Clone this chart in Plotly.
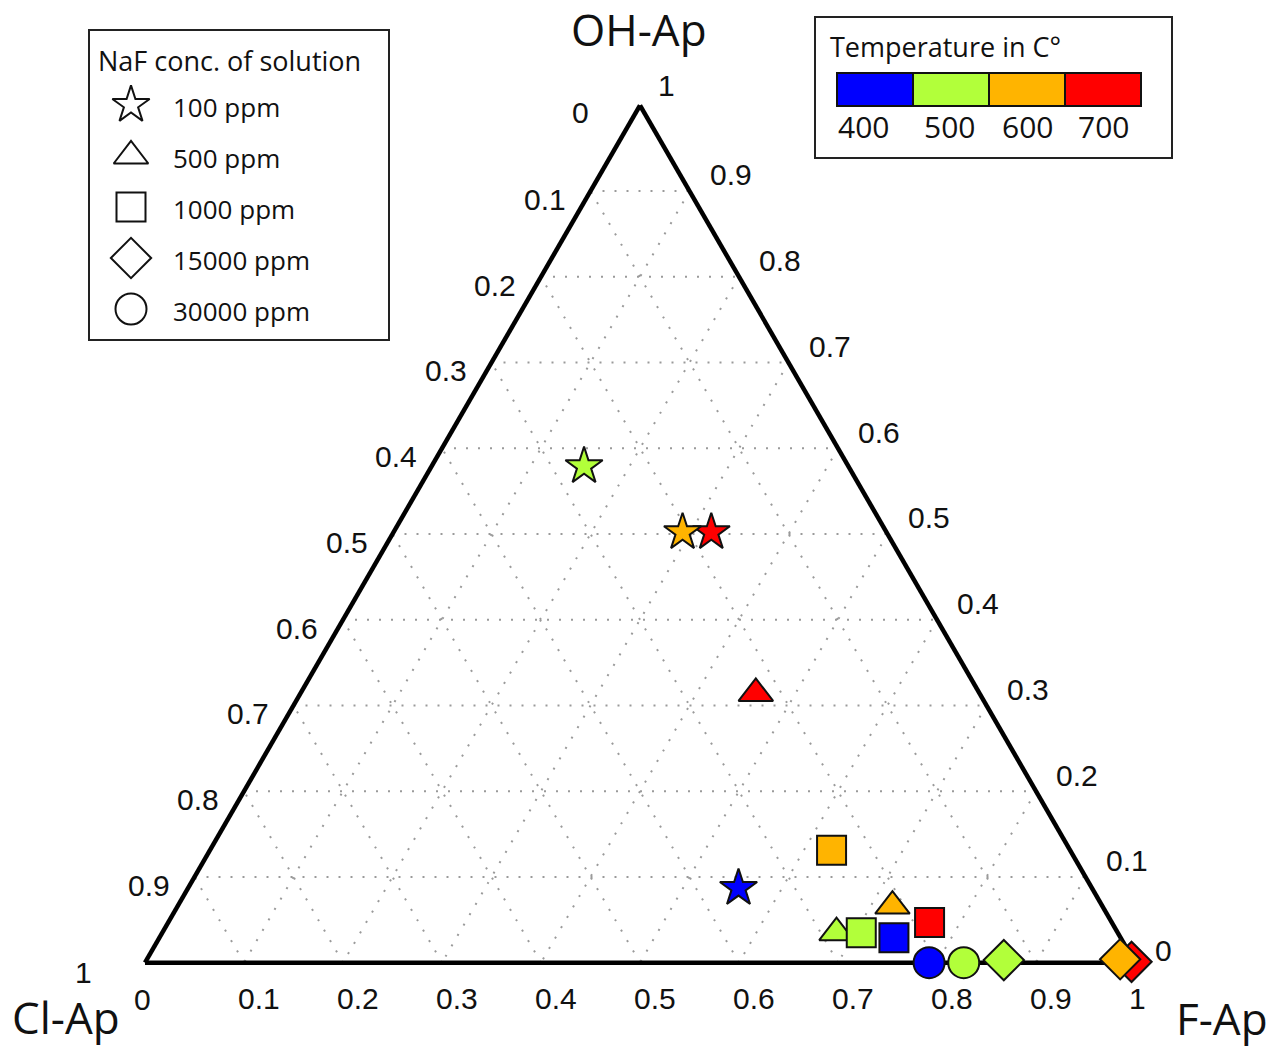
import numpy as np
import plotly.graph_objects as go

# ---------------------------------------------------------------
# Apatite compositions (mole fractions of the three end members)
# ---------------------------------------------------------------
temperature_c = [500, 600, 700, 700, 600, 400, 600, 700, 500, 500, 400, 400, 500, 500, 600, 700]
naf_ppm = [100, 100, 100, 500, 1000, 100, 500, 1000, 500, 1000, 1000, 30000, 30000, 15000, 15000, 15000]
oh_ap = [0.579, 0.502, 0.502, 0.314, 0.131, 0.087, 0.066, 0.047, 0.035, 0.035, 0.029, 0.000, 0.000, 0.003, 0.004, 0.001]
cl_ap = [0.267, 0.206, 0.177, 0.226, 0.241, 0.357, 0.212, 0.184, 0.284, 0.259, 0.229, 0.208, 0.173, 0.131, 0.013, 0.003]
f_ap = [0.154, 0.292, 0.321, 0.460, 0.628, 0.556, 0.722, 0.769, 0.681, 0.706, 0.742, 0.792, 0.827, 0.866, 0.983, 0.996]

# legend categories
temp_levels = [400, 500, 600, 700]
temp_colors = ["#0000FF", "#B2FF3A", "#FFB400", "#FF0000"]
naf_levels = [100, 500, 1000, 15000, 30000]
naf_labels = ["100 ppm", "500 ppm", "1000 ppm", "15000 ppm", "30000 ppm"]
naf_symbols = ["star", "triangle-up", "square", "diamond", "circle"]
naf_sizes = [28, 30, 29, 31, 31]

# tick values shared by the three sides
tick_values = [round(v, 1) for v in np.arange(0, 1.01, 0.1)]
tick_text = [f"{v:g}" for v in tick_values]

# ---------------------------------------------------------------
# Page geometry
# ---------------------------------------------------------------
W, H = 1285, 1053
TRI_LEFT, TRI_RIGHT = 145, 1135
TRI_BOTTOM = 963
TRI_W = TRI_RIGHT - TRI_LEFT
TRI_H = TRI_W * np.sqrt(3) / 2

SANS = "Open Sans, Lato, sans-serif"
ARIAL = "Liberation Sans, Arial, sans-serif"
INK = "#111111"


def to_page(oh, cl, f):
    """Page position (pixels) of a composition inside the ternary frame."""
    x = TRI_LEFT + TRI_W / 2 + (f - cl) * TRI_W / 2
    y = TRI_BOTTOM - oh * TRI_H
    return x, y


fig = go.Figure()

# ---------------------------------------------------------------
# Data points, one trace per temperature
# ---------------------------------------------------------------
sym_of = dict(zip(naf_levels, naf_symbols))
size_of = dict(zip(naf_levels, naf_sizes))
draw_order = [400, 500, 700, 600]
for t in draw_order:
    idx = [i for i, tc in enumerate(temperature_c) if tc == t]
    fig.add_trace(go.Scatterternary(
        a=[oh_ap[i] for i in idx],
        b=[cl_ap[i] for i in idx],
        c=[f_ap[i] for i in idx],
        mode="markers",
        marker=dict(
            symbol=[sym_of[naf_ppm[i]] for i in idx],
            size=[size_of[naf_ppm[i]] for i in idx],
            color=temp_colors[temp_levels.index(t)],
            opacity=1,
            line=dict(color=INK, width=2),
        ),
        cliponaxis=False,
        showlegend=False,
        hoverinfo="skip",
    ))

annotations = []
shapes = []

# ---------------------------------------------------------------
# Tick labels along the three sides
# ---------------------------------------------------------------
def side_labels(points, offsets):
    for (oh, cl, f), (dx, dy), txt in zip(points, offsets, tick_text):
        x, y = to_page(oh, cl, f)
        annotations.append(dict(x=x + dx, y=y + dy, xref="x", yref="y", text=txt,
                                showarrow=False, xanchor="center", yanchor="middle",
                                font=dict(family=ARIAL, size=30, color=INK)))


last = len(tick_values) - 1
# left side: Cl-Ap fraction, 0 at the apex to 1 at the Cl corner
left_pts = [(1 - v, v, 0.0) for v in tick_values]
left_off = [(-60, 7) if i == 0 else (-62, 9) if i == last else (-46, 8)
            for i in range(len(tick_values))]
side_labels(left_pts, left_off)

# right side: OH-Ap fraction, 0 at the F corner to 1 at the apex
right_pts = [(v, 0.0, 1 - v) for v in tick_values]
right_off = [(28, -12.5) if i == 0 else (26.5, -20) if i == last else (41, -16.5)
             for i in range(len(tick_values))]
side_labels(right_pts, right_off)

# bottom side: F-Ap fraction, 0 at the Cl corner to 1 at the F corner
bottom_pts = [(0.0, 1 - v, v) for v in tick_values]
bottom_off = [(-2.5, 36) if i == 0 else (2.5, 35.5) if i == last else (15, 35)
              for i in range(len(tick_values))]
side_labels(bottom_pts, bottom_off)

# ---------------------------------------------------------------
# Ternary frame
# ---------------------------------------------------------------
axis_style = dict(
    title=dict(text=""),
    showticklabels=False,
    ticks="",
    linecolor="black",
    linewidth=4.5,
    showline=True,
    showgrid=True,
    gridcolor="#9a9a9a",
    gridwidth=1.6,
    griddash="2px,10px",
    tick0=0,
    dtick=0.1,
    layer="below traces",
    min=0,
)

fig.update_layout(
    width=W,
    height=H,
    margin=dict(l=0, r=0, t=0, b=0, pad=0),
    paper_bgcolor="white",
    plot_bgcolor="rgba(0,0,0,0)",
    showlegend=False,
    ternary=dict(
        sum=1,
        domain=dict(x=[TRI_LEFT / W, TRI_RIGHT / W],
                    y=[(H - TRI_BOTTOM) / H, (H - TRI_BOTTOM + 858) / H]),
        bgcolor="rgba(0,0,0,0)",
        aaxis=axis_style,
        baxis=axis_style,
        caxis=axis_style,
    ),
    # pixel-scaled overlay used for titles, tick labels and the legends
    xaxis=dict(range=[0, W], visible=False, fixedrange=True, domain=[0, 1]),
    yaxis=dict(range=[H, 0], visible=False, fixedrange=True, domain=[0, 1]),
)

# corner titles
for text, x, y in [("OH-Ap", 639, 29), ("Cl-Ap", 66, 1017), ("F-Ap", 1222, 1018)]:
    annotations.append(dict(x=x, y=y, xref="x", yref="y", text=text, showarrow=False,
                            xanchor="center", yanchor="middle",
                            font=dict(family=SANS, size=44, color=INK)))

# ---------------------------------------------------------------
# NaF concentration legend
# ---------------------------------------------------------------
shapes.append(dict(type="rect", xref="x", yref="y", x0=89, y0=30, x1=389, y1=340,
                   line=dict(color="#222222", width=2), fillcolor="white", layer="below"))
annotations.append(dict(x=96, y=60, xref="x", yref="y", text="NaF conc. of solution",
                        showarrow=False, xanchor="left", yanchor="middle",
                        font=dict(family=SANS, size=27, color=INK)))
row0, row_gap = 105, 51
legend_y = [row0 + i * row_gap for i in range(len(naf_levels))]
fig.add_trace(go.Scatter(
    x=[131] * len(naf_levels), y=legend_y, mode="markers",
    marker=dict(symbol=naf_symbols, size=naf_sizes, color="white", opacity=1,
                line=dict(color=INK, width=2)),
    showlegend=False, hoverinfo="skip", cliponaxis=False,
))
for lab, y in zip(naf_labels, legend_y):
    annotations.append(dict(x=171, y=y + 2, xref="x", yref="y", text=lab, showarrow=False,
                            xanchor="left", yanchor="middle",
                            font=dict(family=SANS, size=26, color=INK)))

# ---------------------------------------------------------------
# Temperature legend
# ---------------------------------------------------------------
shapes.append(dict(type="rect", xref="x", yref="y", x0=815, y0=17, x1=1172, y1=158,
                   line=dict(color="#222222", width=2), fillcolor="white", layer="below"))
annotations.append(dict(x=828, y=46, xref="x", yref="y", text="Temperature in C°",
                        showarrow=False, xanchor="left", yanchor="middle",
                        font=dict(family=SANS, size=27, color=INK)))
bar_x0, bar_step, bar_y0, bar_y1 = 837, 76, 73, 106
label_x = [863, 949, 1027, 1103]
for i, (t, col) in enumerate(zip(temp_levels, temp_colors)):
    shapes.append(dict(type="rect", xref="x", yref="y",
                       x0=bar_x0 + i * bar_step, x1=bar_x0 + (i + 1) * bar_step,
                       y0=bar_y0, y1=bar_y1, fillcolor=col,
                       line=dict(color=INK, width=2)))
    annotations.append(dict(x=label_x[i], y=126, xref="x", yref="y", text=str(t),
                            showarrow=False, xanchor="center", yanchor="middle",
                            font=dict(family=SANS, size=30, color=INK)))

fig.update_layout(annotations=annotations, shapes=shapes)

fig.write_html("out.html")
